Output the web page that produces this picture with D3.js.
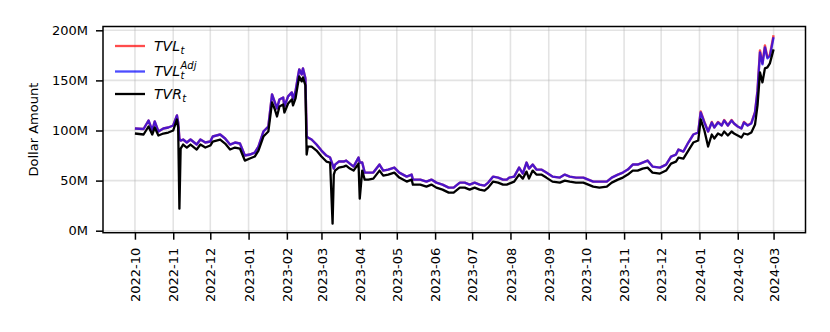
<!DOCTYPE html>
<html>
<head>
<meta charset="utf-8">
<script src="https://cdn.jsdelivr.net/npm/d3@7"></script>
<style>
  body { margin: 0; background: #fff; }
  svg text { font-family: "DejaVu Sans", sans-serif; }
</style>
</head>
<body>
<svg id="chart" width="830" height="332"></svg>
<script>
// data, values in millions of dollars
var dates = [
  "2022-10-01","2022-10-08","2022-10-12","2022-10-15","2022-10-17","2022-10-20","2022-10-24","2022-10-28",
  "2022-11-01","2022-11-04","2022-11-05","2022-11-06","2022-11-07","2022-11-09","2022-11-12","2022-11-15",
  "2022-11-17","2022-11-20","2022-11-23","2022-11-27","2022-12-01","2022-12-03","2022-12-09","2022-12-13",
  "2022-12-17","2022-12-21","2022-12-25","2022-12-29","2023-01-02","2023-01-06","2023-01-09","2023-01-13",
  "2023-01-17","2023-01-20","2023-01-22","2023-01-24","2023-01-26","2023-01-29","2023-01-30","2023-02-02",
  "2023-02-05","2023-02-06","2023-02-08","2023-02-10","2023-02-11","2023-02-13","2023-02-14","2023-02-16",
  "2023-02-17","2023-02-18","2023-02-21","2023-02-25","2023-03-01","2023-03-05","2023-03-08","2023-03-10",
  "2023-03-11","2023-03-12","2023-03-15","2023-03-19","2023-03-21","2023-03-24","2023-03-27","2023-03-31",
  "2023-04-01","2023-04-03","2023-04-05","2023-04-08","2023-04-12","2023-04-17","2023-04-20","2023-04-24",
  "2023-04-29","2023-05-03","2023-05-09","2023-05-13","2023-05-14","2023-05-20","2023-05-25","2023-05-29",
  "2023-06-02","2023-06-07","2023-06-12","2023-06-16","2023-06-18","2023-06-21","2023-06-25","2023-06-29",
  "2023-07-03","2023-07-07","2023-07-11","2023-07-14","2023-07-18","2023-07-22","2023-07-26","2023-07-29",
  "2023-07-31","2023-08-04","2023-08-08","2023-08-11","2023-08-14","2023-08-16","2023-08-19","2023-08-22",
  "2023-08-26","2023-08-30","2023-09-04","2023-09-10","2023-09-14","2023-09-18","2023-09-23","2023-09-29",
  "2023-10-03","2023-10-07","2023-10-12","2023-10-18","2023-10-22","2023-10-27","2023-10-31","2023-11-04",
  "2023-11-08","2023-11-12","2023-11-16","2023-11-20","2023-11-24","2023-11-30","2023-12-05","2023-12-09",
  "2023-12-13","2023-12-15","2023-12-19","2023-12-23","2023-12-27","2023-12-31","2024-01-02","2024-01-05",
  "2024-01-08","2024-01-11","2024-01-13","2024-01-16","2024-01-19","2024-01-21","2024-01-24","2024-01-27",
  "2024-01-29","2024-02-01","2024-02-04","2024-02-06","2024-02-09","2024-02-12","2024-02-15","2024-02-17",
  "2024-02-19","2024-02-21","2024-02-23","2024-02-25","2024-02-27","2024-03-01"
];

var tvlAdj = [
  102,101.5,110,100,109,99,102,103,
  105,115,108,92,90,91,88,91,
  89,86,91,88,89,94,96,92,
  86,88,87,75,76,78,84,99,
  104,136,129,122,131,133,124,134,
  138,131,139,154,161,156,162,152,
  94,93,91,86,80,75,73,66,
  62,66,69,69,70,67,64,73,
  68,68,58,58,58,66,60,61,
  63,58,54,56,51,51,49,51,
  48,46,43,43,45,48,48,46,
  48,46,45,48,54,53,51,51,
  53,54,63,57,68,62,66,61,
  61,58,54,53,56,54,53,53,
  51,49,49,49,53,56,58,61,
  66,66,68,70,64,63,66,74,
  76,81,79,88,96,98,118,108,
  99,108,103,108,105,110,105,110,
  107,104,102,108,105,107,118,139,
  178,166,183,172,174,193
];

var tvl = [
  102,101.5,110,100,109,99,102,103,
  105,115,108,92,90,91,88,91,
  89,86,91,88,89,94,96,92,
  86,88,87,75,76,78,84,99,
  104,136,129,122,131,133,124,134,
  138,131,139,154,161,156,162,152,
  94,93,91,86,80,75,73,66,
  62,66,69,69,70,67,64,73,
  68,68,58,58,58,66,60,61,
  63,58,54,56,51,51,49,51,
  48,46,43,43,45,48,48,46,
  48,46,45,48,54,53,51,51,
  53,54,63,57,68,62,66,61,
  61,58,54,53,56,54,53,53,
  51,49,49,49,53,56,58,61,
  66,66,68,70,64,63,66,74,
  76,81,79,88,96,98,119,108.5,
  99,108.5,103,108.5,105,110.5,105,110.5,
  107,104,102,108.5,105,107.5,118.5,140,
  180,167,185,173,175.5,195
];

var tvr = [
  97,96,104,96,103,95,97,98,
  100,111,103,22,82,86,83,86,
  84,81,86,83,85,89,91,87,
  81,83,82,70,72,74,80,94,
  99,128,122,114,124,126,118,127,
  131,125,132,147,154,149,153,145,
  76,84,84,80,74,69,68,7,
  56,60,63,64,65,62,60,67,
  32,60,51,51,52,60,55,56,
  58,53,49,51,46,46,44,46,
  43,41,38,38,40,43,43,41,
  43,41,40,43,49,48,46,46,
  47,49,56,52,59,52,60,56,
  56,53,49,48,50,49,48,48,
  46,44,43,44,48,51,53,56,
  60,60,62,63,58,57,60,67,
  69,73,72,80,88,90,111,100,
  84,96,92,97,95,99,95,99,
  97,95,93,97,96,98,106,125,
  158,148,162,163,167,181
];

var yTicks = [0, 50, 100, 150, 200];
var xTickMonths = [
  "2022-10","2022-11","2022-12","2023-01","2023-02","2023-03","2023-04","2023-05","2023-06",
  "2023-07","2023-08","2023-09","2023-10","2023-11","2023-12","2024-01","2024-02","2024-03"
];

var margin = {left: 103, right: 24.5, top: 26.5, bottom: 99.3};
var width = 830 - margin.left - margin.right;
var height = 332 - margin.top - margin.bottom;

var parseDate = d3.timeParse("%Y-%m-%d");
var parseMonth = d3.timeParse("%Y-%m");

var data = dates.map(function (d, i) {
  return {date: parseDate(d), tvl: tvl[i], adj: tvlAdj[i], tvr: tvr[i]};
});

var start = d3.min(data, function (d) { return d.date; });
var end = d3.max(data, function (d) { return d.date; });
var pad = (end - start) * 0.05;

var x = d3.scaleTime()
  .domain([new Date(+start - pad), new Date(+end + pad)])
  .range([0, width]);

var y = d3.scaleLinear()
  .domain([-2.0, 203.8])
  .range([height, 0]);

var svg = d3.select("#chart")
  .append("g")
  .attr("transform", "translate(" + margin.left + "," + margin.top + ")");

// grid
svg.append("g")
  .selectAll("line")
  .data(xTickMonths)
  .enter()
  .append("line")
  .attr("x1", function (d) { return x(parseMonth(d)); })
  .attr("x2", function (d) { return x(parseMonth(d)); })
  .attr("y1", 0)
  .attr("y2", height)
  .attr("stroke", "#b0b0b0")
  .attr("stroke-opacity", 0.35)
  .attr("stroke-width", 1.6);

svg.append("g")
  .selectAll("line")
  .data(yTicks)
  .enter()
  .append("line")
  .attr("x1", 0)
  .attr("x2", width)
  .attr("y1", function (d) { return y(d); })
  .attr("y2", function (d) { return y(d); })
  .attr("stroke", "#b0b0b0")
  .attr("stroke-opacity", 0.35)
  .attr("stroke-width", 1.6);

// lines
function makeLine(key) {
  return d3.line()
    .x(function (d) { return x(d.date); })
    .y(function (d) { return y(d[key]); });
}

svg.append("path")
  .datum(data)
  .attr("fill", "none")
  .attr("stroke", "red")
  .attr("stroke-opacity", 0.7)
  .attr("stroke-width", 2.4)
  .attr("stroke-linejoin", "round")
  .attr("d", makeLine("tvl"));

svg.append("path")
  .datum(data)
  .attr("fill", "none")
  .attr("stroke", "blue")
  .attr("stroke-opacity", 0.7)
  .attr("stroke-width", 2.4)
  .attr("stroke-linejoin", "round")
  .attr("d", makeLine("adj"));

svg.append("path")
  .datum(data)
  .attr("fill", "none")
  .attr("stroke", "black")
  .attr("stroke-width", 2.3)
  .attr("stroke-linejoin", "round")
  .attr("d", makeLine("tvr"));

// axes
var xAxis = svg.append("g")
  .attr("transform", "translate(0," + height + ")")
  .call(d3.axisBottom(x)
    .tickValues(xTickMonths.map(parseMonth))
    .tickFormat(d3.timeFormat("%Y-%m"))
    .tickSize(7)
    .tickPadding(7)
    .tickSizeOuter(0));

xAxis.selectAll("text")
  .attr("transform", "rotate(-90)")
  .attr("text-anchor", "end")
  .attr("x", -15)
  .attr("y", 0)
  .attr("dy", "0.35em")
  .style("font-size", "13px")
  .attr("fill", "#000");

var yAxis = svg.append("g")
  .call(d3.axisLeft(y)
    .tickValues(yTicks)
    .tickFormat(function (d) { return d + "M"; })
    .tickSize(7)
    .tickPadding(8)
    .tickSizeOuter(0));

yAxis.selectAll("text").style("font-size", "13px").attr("fill", "#000");

svg.selectAll(".tick line").attr("stroke", "#000").attr("stroke-width", 1.5);
svg.selectAll(".domain").remove();

// frame
svg.append("rect")
  .attr("x", 0)
  .attr("y", 0)
  .attr("width", width)
  .attr("height", height)
  .attr("fill", "none")
  .attr("stroke", "#000")
  .attr("stroke-width", 1.5);

// y label
svg.append("text")
  .attr("transform", "rotate(-90)")
  .attr("x", -height / 2)
  .attr("y", -margin.left + 38)
  .attr("text-anchor", "middle")
  .style("font-size", "13px")
  .text("Dollar Amount");

// legend
var legend = svg.append("g").attr("transform", "translate(12,0)");
var legendItems = [
  {color: "red", opacity: 0.7, base: "TVL", sub: "t", sup: null, y: 19.5},
  {color: "blue", opacity: 0.7, base: "TVL", sub: "t", sup: "Adj", y: 45},
  {color: "black", opacity: 1, base: "TVR", sub: "t", sup: null, y: 67.5}
];

legendItems.forEach(function (item) {
  legend.append("line")
    .attr("x1", 0)
    .attr("x2", 30)
    .attr("y1", item.y)
    .attr("y2", item.y)
    .attr("stroke", item.color)
    .attr("stroke-opacity", item.opacity)
    .attr("stroke-width", 2.3);

  var base = legend.append("text")
    .attr("x", 39)
    .attr("y", item.y + 4.5)
    .style("font-size", "14px")
    .style("font-style", "italic")
    .text(item.base);
  var bx = 39 + base.node().getComputedTextLength() + 0.5;

  legend.append("text")
    .attr("x", bx)
    .attr("y", item.y + 7.5)
    .style("font-size", "10px")
    .style("font-style", "italic")
    .text(item.sub);

  if (item.sup) {
    legend.append("text")
      .attr("x", bx)
      .attr("y", item.y - 2.5)
      .style("font-size", "10px")
      .style("font-style", "italic")
      .text(item.sup);
  }
});
</script>
</body>
</html>
